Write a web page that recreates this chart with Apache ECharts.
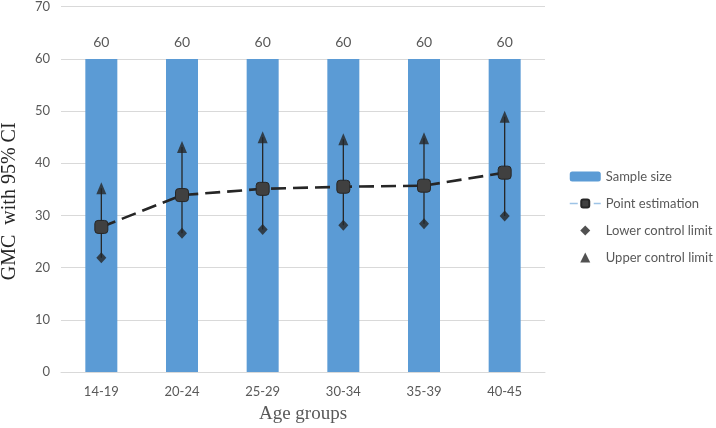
<!DOCTYPE html>
<html><head><meta charset="utf-8">
<script src="https://cdn.jsdelivr.net/npm/echarts@6/dist/echarts.min.js"></script>
<style>html,body{margin:0;padding:0;background:#fff}#c{width:716px;height:428px}</style>
</head><body><div id="c"></div>
<script>
const categories = ['14-19','20-24','25-29','30-34','35-39','40-45'];
const sampleSize = [60,60,60,60,60,60];
const pointEst = [27.8,33.9,35.1,35.5,35.7,38.2];
const lowerLimit = [21.9,26.6,27.3,28.1,28.4,29.9];
const upperLimit = [35.2,43.1,45.0,44.6,44.8,48.9];

const errData = categories.map((c,i)=>[i, lowerLimit[i], upperLimit[i]]);
const chart = echarts.init(document.getElementById('c'));
const FONT = 'Lato, "Open Sans", sans-serif';
const lab = {color:'#595959', fontFamily:FONT, fontSize:13};
chart.setOption({
  animation:false,
  grid:{left:61,right:171,top:6.7,bottom:56,containLabel:false, outerBoundsMode:'none'},
  legend:{
    orient:'vertical', left:564, top:165, itemGap:14, itemWidth:31, itemHeight:10,
    symbolKeepAspect:true,
    textStyle:{color:'#595959', fontFamily:FONT, fontSize:13},
    data:[
      {name:'Sample size'},
      {name:'Point estimation', itemStyle:{color:'#404040'}, lineStyle:{color:'#9dc3e6', type:[8,4], width:1.5}},
      {name:'Lower control limit', icon:'path://M5,0L10,5L5,10L0,5Z'},
      {name:'Upper control limit', icon:'path://M5,0L10,10L0,10Z'}
    ]
  },
  xAxis:{
    type:'category', data:categories,
    axisLine:{lineStyle:{color:'#d9d9d9', width:1}},
    axisTick:{show:false},
    axisLabel:Object.assign({margin:13}, lab),
    name:'Age groups', nameLocation:'middle', nameGap:33,
    nameTextStyle:{fontFamily:'"Liberation Serif", serif', fontSize:19, color:'#595959'}
  },
  yAxis:{
    type:'value', min:0, max:70, interval:10,
    axisLine:{show:false}, axisTick:{show:false},
    splitLine:{lineStyle:{color:'#d9d9d9', width:1}},
    axisLabel:Object.assign({margin:11}, lab),
    name:'GMC  with 95% CI', nameLocation:'middle', nameGap:41,
    nameTextStyle:{fontFamily:'"Liberation Serif", serif', fontSize:20, color:'#262626', padding:[0,24,0,0]}
  },
  series:[
    {name:'Sample size', type:'bar', data:sampleSize, barWidth:32,
     itemStyle:{color:'#5b9bd5'},
     label:{show:true, position:'top', distance:9, color:'#595959', fontSize:14, fontFamily:FONT}, z:1},
    {name:'err', type:'custom', data:errData, encode:{x:0, y:[1,2]}, z:3,
     renderItem:function(params, api){
       const p1 = api.coord([api.value(0), api.value(1)]);
       const p2 = api.coord([api.value(0), api.value(2)]);
       return {type:'line', shape:{x1:p1[0], y1:p1[1], x2:p2[0], y2:p2[1]},
               style:{stroke:'#262626', lineWidth:1.3}};
     }},
    {name:'Lower control limit', type:'scatter', data:lowerLimit, symbol:'diamond', symbolSize:[10,11],
     itemStyle:{color:'#262626'}, z:4},
    {name:'Upper control limit', type:'scatter', data:upperLimit, symbol:'triangle', symbolSize:[10,12],
     itemStyle:{color:'#262626'}, z:4},
    {name:'Point estimation', type:'line', data:pointEst, symbol:'roundRect', symbolSize:13,
     lineStyle:{color:'#262626', width:2.6, type:[15,7]},
     itemStyle:{color:'#404040', borderColor:'#262626', borderWidth:1}, z:5}
  ]
});
</script></body></html>
